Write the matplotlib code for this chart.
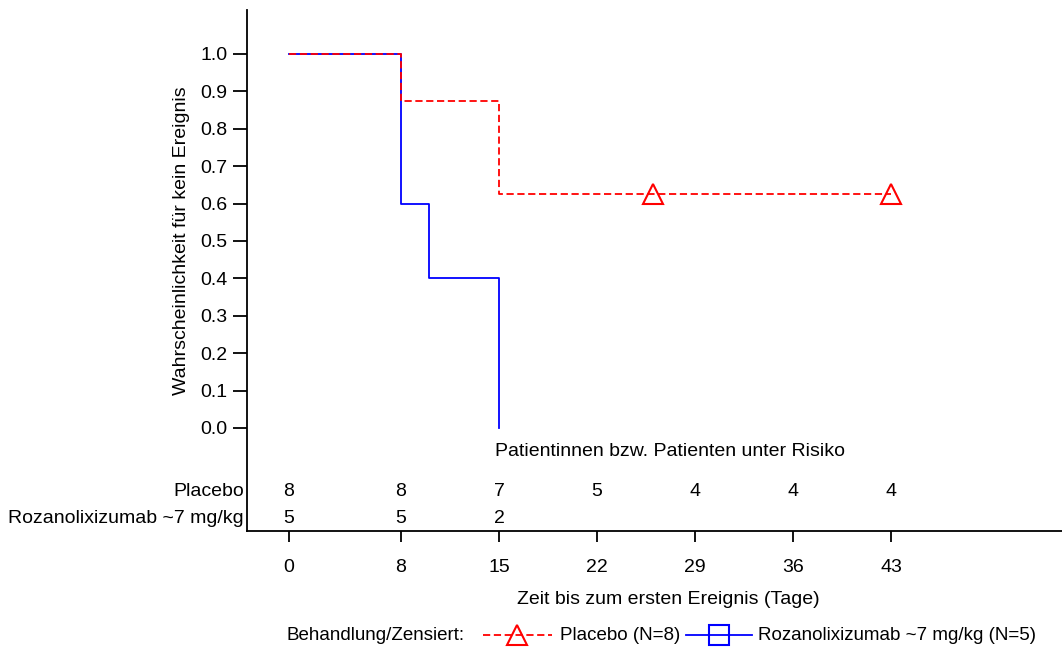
import matplotlib
matplotlib.use("Agg")
import matplotlib.pyplot as plt
from matplotlib.lines import Line2D

plt.rcParams['font.family'] = ['Liberation Sans', 'DejaVu Sans']

# Data
placebo_t = [0, 8, 15, 43]
placebo_s = [1.0, 0.875, 0.625, 0.625]
placebo_cens_t = [26, 43]
placebo_cens_s = [0.625, 0.625]
roza_t = [0, 8, 10, 15]
roza_s = [1.0, 0.6, 0.4, 0.0]

risk_times = [0, 8, 15, 22, 29, 36, 43]
risk_placebo = [8, 8, 7, 5, 4, 4, 4]
risk_roza = [5, 5, 2]
group_labels = ["Placebo", "Rozanolixizumab ~7 mg/kg"]
legend_labels = ["Placebo (N=8)", "Rozanolixizumab ~7 mg/kg (N=5)"]
yticks = [0.0, 0.1, 0.2, 0.3, 0.4, 0.5, 0.6, 0.7, 0.8, 0.9, 1.0]

RED = '#ff0000'
BLUE = '#0000ff'
FS = 14
W, H = 1062, 650

fig = plt.figure(figsize=(10.62, 6.5), dpi=100)
ax = fig.add_axes([247/W, 1-531/H, (W-247)/W, (531-10)/H])

ax.step(roza_t, roza_s, where='post', color=BLUE, lw=1.3)
ax.step(placebo_t, placebo_s, where='post', color=RED, lw=1.3, dashes=(4, 2))
ax.plot(placebo_cens_t, placebo_cens_s, ls='none', marker='^', ms=14,
        mfc='none', mec=RED, mew=1.5)

ax.set_xlim(-3.0, 55.2)
ax.set_ylim(-0.2754, 1.1176)
ax.set_xticks(risk_times)
ax.set_xticklabels([str(t) for t in risk_times], fontsize=FS)
ax.set_yticks(yticks)
ax.set_yticklabels([f"{v:.1f}" for v in yticks], fontsize=FS)
ax.tick_params(axis='y', direction='out', length=10, width=1.3, pad=4)
ax.tick_params(axis='x', direction='out', length=8, width=1.3, pad=12)
for s in ['top', 'right']:
    ax.spines[s].set_visible(False)
for s in ['left', 'bottom']:
    ax.spines[s].set_linewidth(1.3)

# y label centered over 0..1 range
ax.text(-(247-181)/(W-247), 0.5, "Wahrscheinlichkeit für kein Ereignis", rotation=90,
        transform=ax.get_yaxis_transform(), ha='center', va='center', fontsize=FS)
fig.text(668/W, 1-600/H, "Zeit bis zum ersten Ereignis (Tage)",
         ha='center', va='center', fontsize=FS)

# Risk table
ax.text(27.2, -0.064, "Patientinnen bzw. Patienten unter Risiko",
        ha='center', va='center', fontsize=FS)
y_rows = [-0.171, -0.243]
for t, n in zip(risk_times, risk_placebo):
    ax.text(t, y_rows[0], str(n), ha='center', va='center', fontsize=FS)
for t, n in zip(risk_times, risk_roza):
    ax.text(t, y_rows[1], str(n), ha='center', va='center', fontsize=FS)
for lab, yy in zip(group_labels, y_rows):
    ax.text(-0.004, yy, lab, transform=ax.get_yaxis_transform(),
            ha='right', va='center', fontsize=FS)

# Legend (manual, figure coordinates)
ly = 1 - 635/H
fig.text(286/W, ly, "Behandlung/Zensiert:", ha='left', va='center', fontsize=FS - 0.5)
fig.add_artist(Line2D([483/W, 552/W], [ly, ly], color=RED, lw=1.3, dashes=(4, 2)))
fig.add_artist(Line2D([517/W], [ly], ls='none', marker='^', ms=15,
                      mfc='none', mec=RED, mew=1.5))
fig.text(560/W, ly, legend_labels[0], ha='left', va='center', fontsize=FS - 0.5)
fig.add_artist(Line2D([686/W, 752/W], [ly, ly], color=BLUE, lw=1.3))
fig.add_artist(Line2D([719/W], [ly], ls='none', marker='s', ms=14,
                      mfc='none', mec=BLUE, mew=1.5))
fig.text(758/W, ly, legend_labels[1], ha='left', va='center', fontsize=FS - 0.5)

fig.savefig("out.png", dpi=100)
